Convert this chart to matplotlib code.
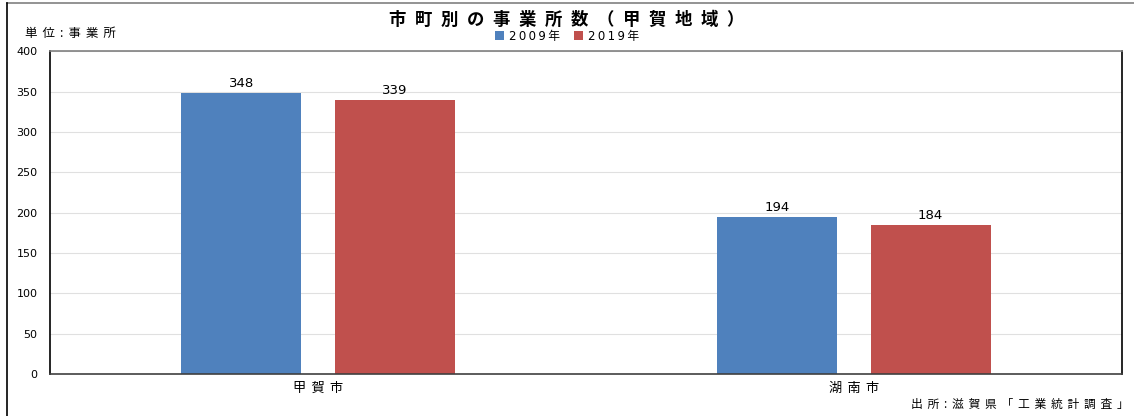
import matplotlib.pyplot as plt
import numpy as np

plt.rcParams['font.family'] = ['Noto Sans CJK JP', 'DejaVu Sans']
NUM_FONT = ['DejaVu Sans', 'Noto Sans CJK JP']

cities = ['甲賀市', '湖南市']
years = ['2009年', '2019年']
v2009 = [348, 194]
v2019 = [339, 184]
colors = ['#4F81BD', '#C0504D']


def sp(s, gap='\u2002'):
    # 参照画像の文字間隔が広いので空白を挟む
    return gap.join(s)


fig = plt.figure(figsize=(11.34, 4.16), dpi=100)
ax = fig.add_axes([0.0441, 0.101, 0.9453, 0.776])

x = np.arange(len(cities))
w = 0.224
off = 0.143
b1 = ax.bar(x - off, v2009, w, color=colors[0], label=sp(years[0], '\u2009'), zorder=2)
b2 = ax.bar(x + off, v2019, w, color=colors[1], label=sp(years[1], '\u2009'), zorder=2)
for bars in (b1, b2):
    for r in bars:
        ax.text(r.get_x() + r.get_width() / 2, r.get_height() + 4, str(int(r.get_height())),
                ha='center', va='bottom', fontsize=9.5, family=NUM_FONT)

ax.set_xlim(-0.5, 1.5)
ax.set_ylim(0, 400)
ax.set_yticks(range(0, 401, 50))
ax.set_yticklabels([str(v) for v in range(0, 401, 50)], family=NUM_FONT, fontsize=8)
ax.set_xticks(x)
ax.set_xticklabels([sp(c, '\u2009\u2009') for c in cities], fontsize=9.5)
ax.tick_params(axis='y', length=0, pad=9)
ax.tick_params(axis='x', length=0, pad=6)
ax.grid(axis='y', color='#e0e0e0', lw=0.8, zorder=0)
ax.spines['top'].set_color('#808080')
ax.spines['left'].set_color('black')
ax.spines['right'].set_color('black')
ax.spines['bottom'].set_color('#404040')
for s in ax.spines.values():
    s.set_linewidth(1.2)

fig.text(0.5, 0.953, sp('市町別の事業所数（甲賀地域）'), ha='center', va='center',
         fontsize=12.5, fontweight='bold')
fig.text(0.022, 0.92, sp('単位:事業所', '\u2009\u2009'), ha='left', va='center', fontsize=9)
fig.text(0.995, 0.027, sp('出所:滋賀県「工業統計調査」', '\u2009\u2009'), ha='right', va='center', fontsize=8.5)
leg = fig.legend(loc='center', bbox_to_anchor=(0.5, 0.913), ncol=2, frameon=False,
                 prop={'family': NUM_FONT, 'size': 8.5},
                 handlelength=0.8, handleheight=0.8, handletextpad=0.4, columnspacing=1.2)

# 外枠
fig.add_artist(plt.Line2D([0.006, 1], [0.993, 0.993], color='#808080', lw=1.2, transform=fig.transFigure))
fig.add_artist(plt.Line2D([0.0062, 0.0062], [0, 0.993], color='black', lw=1.2, transform=fig.transFigure))

fig.savefig('out.png', dpi=100)
